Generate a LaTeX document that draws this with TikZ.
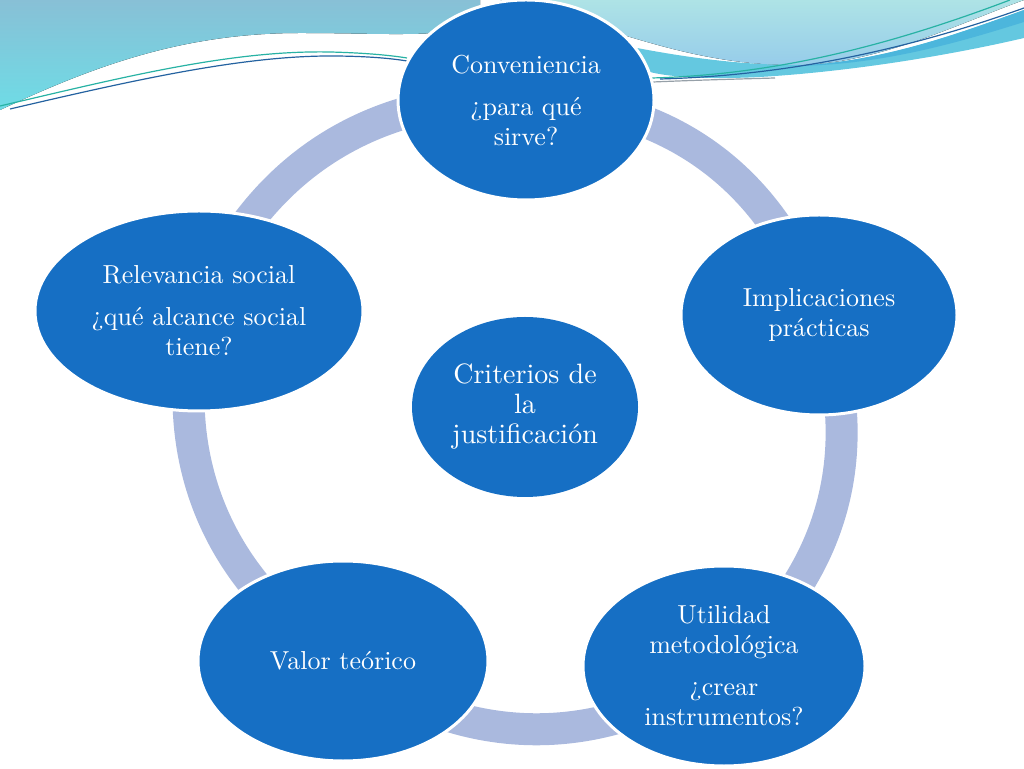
\documentclass[tikz,border=0pt]{standalone}
\usepackage{fontspec}
\usepackage{tikz}
\usetikzlibrary{shapes.geometric,backgrounds}

\newfontfamily\bubblefont{lmroman10-regular.otf}

\definecolor{nodeblue}{RGB}{22,111,196}
\definecolor{ringblue}{RGB}{170,185,222}
\definecolor{wavetop}{RGB}{136,192,214}
\definecolor{wavelow}{RGB}{110,220,230}
\definecolor{skylight}{RGB}{174,227,230}
\definecolor{skyblue}{RGB}{150,204,234}
\definecolor{bandcyan}{RGB}{100,200,224}
\definecolor{banddeep}{RGB}{76,182,220}
\definecolor{lineteal}{RGB}{40,178,164}
\definecolor{linedark}{RGB}{36,98,160}
\definecolor{linegrey}{RGB}{150,160,168}

\begin{document}
\begin{tikzpicture}[x=1pt,y=1pt,
                    ring/.style={draw=ringblue,line width=32pt,line join=round},
                    wave line/.style={line width=1.2pt}]
  \tikzstyle{bubble}=[ellipse,fill=nodeblue,draw=white,line width=3pt,
                      text=white,align=center,inner sep=0pt,minimum height=200pt,
                      font=\bubblefont\fontsize{26}{30}\selectfont]
  \useasboundingbox (0,0) rectangle (1024,768);

  \node[bubble,minimum width=256pt] (conv)  at (526,668)
        {Conveniencia\\[12pt]¿para qué\\sirve?};
  \node[bubble,minimum width=276pt] (impl)  at (819,453)
        {Implicaciones\\prácticas};
  \node[bubble,minimum width=282pt] (util)  at (724,102)
        {Utilidad\\metodológica\\[12pt]¿crear\\instrumentos?};
  \node[bubble,minimum width=290pt] (valor) at (343,107)
        {Valor teórico};
  \node[bubble,minimum width=328pt] (relev) at (199,457)
        {Relevancia social\\[12pt]¿qué alcance social\\tiene?};
  \node[bubble,draw=none,minimum width=226pt,minimum height=180pt,
        font=\bubblefont\fontsize{28}{30}\selectfont] (crit) at (525,361)
        {Criterios de\\la\\justificación};

  \begin{scope}[on background layer]
    % waves at the top
    \fill[top color=wavetop,bottom color=wavelow]
      (0,768) -- (0,658) .. controls (90,700) and (180,735) .. (300,735)
      .. controls (380,735) and (440,730) .. (480,742) -- (480,768) -- cycle;
    \fill[top color=skylight,bottom color=skyblue]
      (470,768) -- (1024,768) .. controls (960,745) and (880,705) .. (800,703)
      .. controls (720,702) and (660,722) .. (600,740) -- (500,768) -- cycle;
    \fill[bandcyan]
      (637,720) .. controls (700,708) and (750,703) .. (800,703)
      .. controls (880,705) and (960,735) .. (1024,758) -- (1024,730)
      .. controls (960,715) and (860,697) .. (760,691)
      .. controls (700,688) and (665,692) .. (650,696) -- cycle;
    \fill[banddeep]
      (790,702) .. controls (880,705) and (960,735) .. (1024,758) -- (1024,746)
      .. controls (960,726) and (880,702) .. (790,702) -- cycle;
    \draw[wave line,lineteal] (0,662) .. controls (120,690) and (230,718) .. (330,716)
      .. controls (370,715) and (395,712) .. (407,710);
    \draw[wave line,linedark] (10,659) .. controls (130,687) and (240,712) .. (330,712)
      .. controls (370,712) and (395,709) .. (407,707);
    \draw[wave line,lineteal] (652,690) .. controls (760,693) and (870,715) .. (1010,768);
    \draw[wave line,linedark] (660,689) .. controls (770,692) and (890,712) .. (1024,760);
    \draw[wave line,linegrey] (653,686) .. controls (700,688) and (740,689) .. (775,690);
    % ring between the bubbles
    \draw[ring] (conv.center) to[bend left=36] (impl.center)
                to[bend left=36] (util.center)
                to[bend left=36] (valor.center)
                to[bend left=36] (relev.center)
                to[bend left=36] (conv.center);
  \end{scope}
\end{tikzpicture}
\end{document}
